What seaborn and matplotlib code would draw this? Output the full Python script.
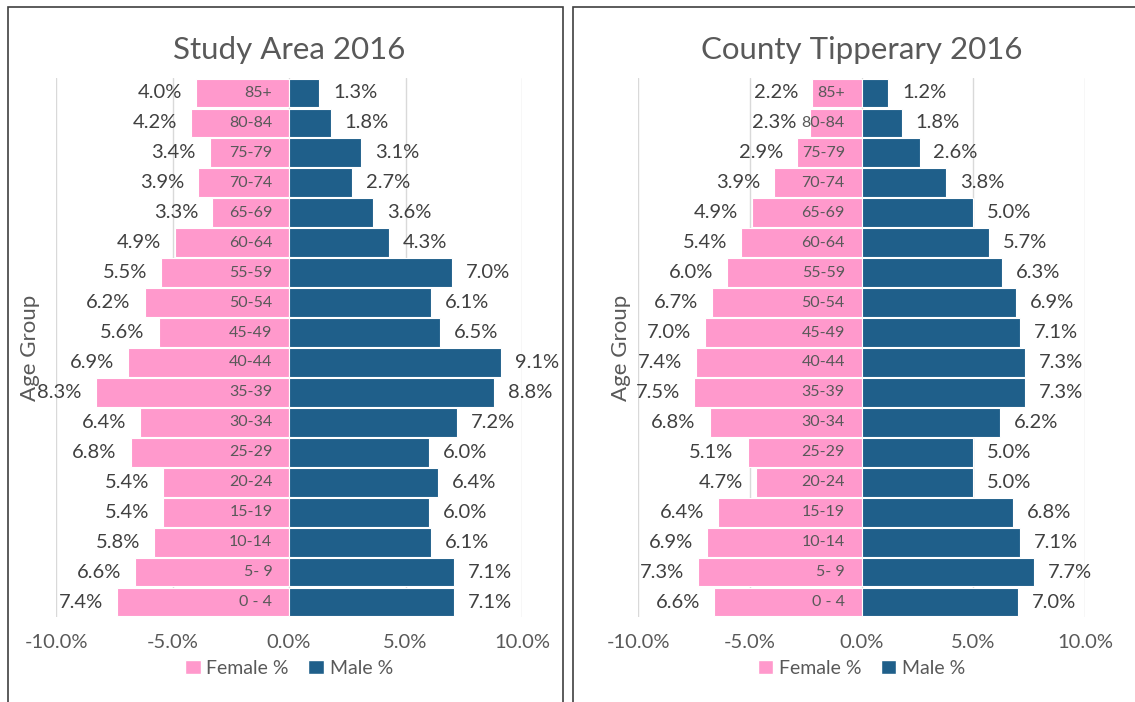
import matplotlib
matplotlib.use("Agg")
import matplotlib.pyplot as plt
import seaborn as sns
from matplotlib.patches import Patch, Rectangle

# age groups from top of the pyramid to the bottom
ages = ["85+", "80-84", "75-79", "70-74", "65-69", "60-64", "55-59", "50-54", "45-49",
        "40-44", "35-39", "30-34", "25-29", "20-24", "15-19", "10-14", "5- 9", "0 - 4"]

study_female = [4.0, 4.2, 3.4, 3.9, 3.3, 4.9, 5.5, 6.2, 5.6, 6.9, 8.3, 6.4, 6.8, 5.4, 5.4, 5.8, 6.6, 7.4]
study_male = [1.3, 1.8, 3.1, 2.7, 3.6, 4.3, 7.0, 6.1, 6.5, 9.1, 8.8, 7.2, 6.0, 6.4, 6.0, 6.1, 7.1, 7.1]

tipp_female = [2.2, 2.3, 2.9, 3.9, 4.9, 5.4, 6.0, 6.7, 7.0, 7.4, 7.5, 6.8, 5.1, 4.7, 6.4, 6.9, 7.3, 6.6]
tipp_male = [1.2, 1.8, 2.6, 3.8, 5.0, 5.7, 6.3, 6.9, 7.1, 7.3, 7.3, 6.2, 5.0, 5.0, 6.8, 7.1, 7.7, 7.0]

xticks = [-10, -5, 0, 5, 10]

PINK = "#FF99CC"
BLUE = "#1F5F8A"
GREY = "#595959"
DARK = "#404040"

sns.set_style("white")
plt.rcParams["font.family"] = ["Lato", "DejaVu Sans"]

fig = plt.figure(figsize=(11.35, 7.02), dpi=100)

# panel frames
fig.add_artist(Rectangle((8 / 1135, -0.05), (563 - 8) / 1135, 1.05 - 7 / 702,
                         transform=fig.transFigure, fill=False, edgecolor="#404040", lw=1.2))
fig.add_artist(Rectangle((573 / 1135, -0.05), 0.5, 1.05 - 7 / 702,
                         transform=fig.transFigure, fill=False, edgecolor="#404040", lw=1.2))

ax1 = fig.add_axes([56 / 1135, 1 - 617 / 702, 466 / 1135, 539 / 702])
ax2 = fig.add_axes([638 / 1135, 1 - 617 / 702, 447 / 1135, 539 / 702])


def pyramid(ax, female, male, title, ylab_x):
    sns.barplot(x=[-v for v in female], y=ages, order=ages, color=PINK, saturation=1,
                orient="h", width=0.96, errorbar=None, edgecolor="white", linewidth=0.8, ax=ax)
    sns.barplot(x=male, y=ages, order=ages, color=BLUE, saturation=1,
                orient="h", width=0.96, errorbar=None, edgecolor="white", linewidth=0.8, ax=ax)
    ax.bar_label(ax.containers[0], labels=[f"{v:.1f}%" for v in female], padding=10,
                 fontsize=14.5, color=DARK)
    ax.bar_label(ax.containers[1], labels=[f"{v:.1f}%" for v in male], padding=10,
                 fontsize=14.5, color=DARK)
    # age group labels inside the female bars
    for i, a in enumerate(ages):
        ax.annotate(a, (0, i), xytext=(-12, 0), textcoords="offset points",
                    ha="right", va="center", fontsize=11.5, color=GREY)
    ax.set_xlim(-10, 10)
    ax.set_ylim(17.5, -0.5)
    ax.set_xticks(xticks)
    ax.set_xticklabels([f"{t:.1f}%" for t in xticks], fontsize=14.5, color=GREY)
    ax.tick_params(axis="x", length=0, pad=12)
    ax.set_yticks([])
    ax.set_xlabel("")
    ax.set_ylabel("Age Group", fontsize=16, color=GREY)
    ax.yaxis.set_label_coords(ylab_x, 0.5)
    ax.grid(axis="x", color="#D9D9D9", lw=1)
    ax.set_axisbelow(True)
    for s in ax.spines.values():
        s.set_visible(False)
    ax.set_title(title, fontsize=22.5, color=GREY, pad=14)
    handles = [Patch(facecolor=PINK, label="Female %"), Patch(facecolor=BLUE, label="Male %")]
    ax.legend(handles=handles, loc="center", bbox_to_anchor=(0.5, -0.095), ncol=2,
              frameon=False, fontsize=14, handlelength=0.8, handleheight=0.8,
              handletextpad=0.3, columnspacing=1.0, labelcolor=GREY)


pyramid(ax1, study_female, study_male, "Study Area 2016", -0.035)
pyramid(ax2, tipp_female, tipp_male, "County Tipperary 2016", -0.015)

fig.savefig("out.png", dpi=100)
